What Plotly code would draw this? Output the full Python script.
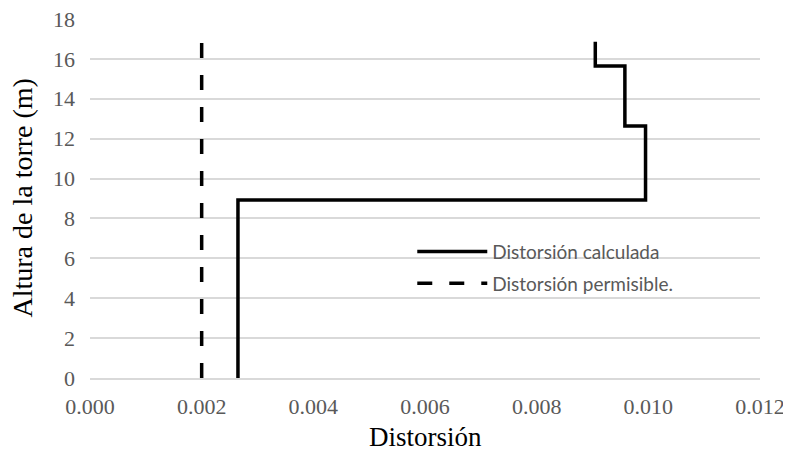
import plotly.graph_objects as go

# Data
calc_x = [0.00265, 0.00265, 0.00995, 0.00995, 0.00958, 0.00958, 0.00905, 0.00905]
calc_y = [0, 8.92, 8.92, 12.63, 12.63, 15.64, 15.64, 16.86]
perm_x = [0.002, 0.002]
perm_y = [0, 16.86]
x_ticks = [0.000, 0.002, 0.004, 0.006, 0.008, 0.010, 0.012]
y_ticks = [0, 2, 4, 6, 8, 10, 12, 14, 16, 18]

W, H = 783, 445
L, R, T, B = 82, 31, 11, 75

fig = go.Figure()
fig.add_trace(go.Scatter(x=calc_x, y=calc_y, mode="lines", name="Distorsión calculada",
                         legendgroup="a",
                         line=dict(color="black", width=3.5)))
fig.add_trace(go.Scatter(x=perm_x, y=perm_y, mode="lines", name="Distorsión permisible.",
                         legendgroup="b",
                         line=dict(color="black", width=3.5, dash="15px,17px")))

tickfont = dict(family="Liberation Serif", size=22, color="#595959")
fig.update_layout(
    width=W, height=H,
    margin=dict(l=L, r=R, t=T, b=B),
    paper_bgcolor="white", plot_bgcolor="white",
    showlegend=True,
    legend=dict(x=0.481, y=0.405, xanchor="left", yanchor="top",
                font=dict(family="Lato", size=19, color="#595959"),
                itemwidth=70,
                bgcolor="rgba(0,0,0,0)", tracegroupgap=4, traceorder="grouped"),
    xaxis=dict(range=[0, 0.012], tickvals=x_ticks, tickformat=".3f",
               showgrid=False, showline=True, linecolor="#d9d9d9", linewidth=1.5,
               zeroline=False, ticks="", tickfont=tickfont, automargin=False,
               ticklabelstandoff=8, ticklabeloverflow="allow"),
    yaxis=dict(range=[0, 18], tickvals=y_ticks, showgrid=True, gridcolor="#d9d9d9", gridwidth=1.5,
               zeroline=False, showline=False, ticks="", tickfont=tickfont, automargin=False,
               ticklabelstandoff=14, ticklabeloverflow="allow"),
    annotations=[
        dict(text="Distorsión", xref="paper", yref="paper", x=0.5, y=0,
             xanchor="center", yanchor="middle", yshift=-59, showarrow=False,
             font=dict(family="Liberation Serif", size=27, color="black")),
        dict(text="Altura de la torre (m)", xref="paper", yref="paper", x=0, y=0.5,
             xanchor="center", yanchor="middle", xshift=-68, textangle=-90, showarrow=False,
             font=dict(family="Liberation Serif", size=28, color="black")),
    ],
)

fig.write_html("out.html")
